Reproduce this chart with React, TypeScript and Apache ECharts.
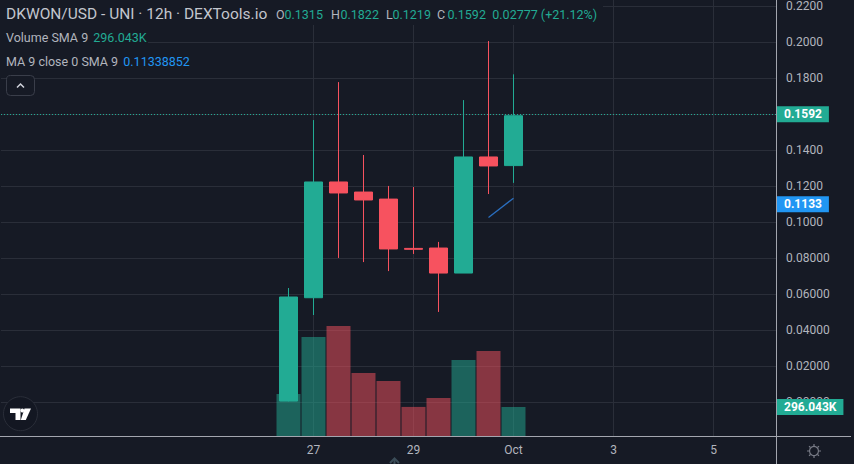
import React, { useEffect, useRef } from "react";
import * as echarts from "echarts";

const BG = "#161a25";
const GRID = "#2a2e39";
const TEXT = "#b2b5be";
const UP = "#22ab94";
const DOWN = "#f7525f";
const UP_VOL = "rgba(34,171,148,0.5)";
const DOWN_VOL = "rgba(247,82,95,0.5)";
const BLUE = "#2196f3";
const FONT = "Roboto";

// 12h slots of the time axis (Sep 21 00:00 ... Oct 6 12:00)
const slotKeys: string[] = [];
for (let i = 0; i < 31; i++) {
  const d = 21 + Math.floor(i / 2);
  const month = d > 30 ? "Oct" : "Sep";
  const day = d > 30 ? d - 30 : d;
  slotKeys.push(`${month} ${day} ${i % 2 ? "12:00" : "00:00"}`);
}

const tickSlots = ["Sep 27 00:00", "Sep 29 00:00", "Oct 1 00:00", "Oct 3 00:00", "Oct 5 00:00"];
const tickLabels = ["27", "29", "Oct", "3", "5"];

const candleDates = [
  "Sep 26 12:00", "Sep 27 00:00", "Sep 27 12:00", "Sep 28 00:00", "Sep 28 12:00",
  "Sep 29 00:00", "Sep 29 12:00", "Sep 30 00:00", "Sep 30 12:00", "Oct 1 00:00",
];
const opens = [0.0007, 0.0581, 0.1224, 0.1168, 0.1129, 0.0855, 0.0857, 0.0718, 0.1363, 0.1315];
const closes = [0.0585, 0.1224, 0.1163, 0.1124, 0.0852, 0.085, 0.0718, 0.1363, 0.1313, 0.1592];
const lows = [0.0005, 0.0485, 0.0802, 0.0779, 0.0729, 0.0824, 0.0502, 0.0718, 0.1157, 0.1219];
const highs = [0.0635, 0.1568, 0.1779, 0.1374, 0.1202, 0.1196, 0.0891, 0.1679, 0.2007, 0.1822];
const volumes = [429000, 1011000, 1123000, 643000, 561000, 297000, 388000, 776000, 868000, 296043];

const maDates = ["Sep 30 12:00", "Oct 1 00:00"];
const maValues = [0.1027, 0.11338852];

const priceGridTicks = [0, 0.02, 0.04, 0.06, 0.08, 0.1, 0.12, 0.14, 0.16, 0.18, 0.2, 0.22];

const titleText = "DKWON/USD - UNI · 12h · DEXTools.io";
const changeText = "0.02777 (+21.12%)";
const volumeLegend = "Volume SMA 9";
const maLegend = "MA 9 close 0 SMA 9";

function fmtPrice(v: number) {
  return v >= 0.0999 ? v.toFixed(4) : v.toFixed(5);
}

function trunc4(v: number) {
  return (Math.floor(v * 10000 + 1e-9) / 10000).toFixed(4);
}

export default function App() {
  const ref = useRef<HTMLDivElement>(null);

  useEffect(() => {
    if (!ref.current) return;
    const chart = echarts.init(ref.current, undefined, { renderer: "svg" });
    const last = candleDates.length - 1;
    const lastMa = maValues[maValues.length - 1];

    const candleData = slotKeys.map((k) => {
      const i = candleDates.indexOf(k);
      return i < 0 ? "-" : [opens[i], closes[i], lows[i], highs[i]];
    });
    const volumeData = slotKeys.map((k) => {
      const i = candleDates.indexOf(k);
      if (i < 0) return "-";
      return { value: volumes[i], itemStyle: { color: closes[i] >= opens[i] ? UP_VOL : DOWN_VOL } };
    });
    const maData = slotKeys.map((k) => {
      const i = maDates.indexOf(k);
      return i < 0 ? "-" : maValues[i];
    });

    const axisBox = (bg: string) => ({
      show: true,
      position: "end",
      distance: 1,
      backgroundColor: bg,
      color: "#ffffff",
      fontWeight: "bold",
      fontSize: 12,
      fontFamily: FONT,
      lineHeight: 14,
      padding: [1, 7, 1, 7],
    });

    const t = (x: number, y: number, text: string, fill: string, size: number) => ({
      type: "text",
      x,
      y,
      z: 100,
      silent: true,
      style: { text, fill, fontSize: size, fontFamily: FONT, verticalAlign: "middle" },
    });

    const gearRays: any[] = [];
    for (let k = 0; k < 8; k++) {
      const a = (k * Math.PI) / 4;
      gearRays.push({
        type: "line",
        z: 100,
        silent: true,
        shape: {
          x1: 814 + Math.cos(a) * 5,
          y1: 451 + Math.sin(a) * 5,
          x2: 814 + Math.cos(a) * 7,
          y2: 451 + Math.sin(a) * 7,
        },
        style: { stroke: "#787b86", lineWidth: 1.2 },
      });
    }

    const hiddenLine = { color: "rgba(0,0,0,0)", width: 0.01, type: "solid" };

    const option: any = {
      animation: false,
      backgroundColor: BG,
      textStyle: { fontFamily: FONT },
      grid: [
        { left: 1, right: 78, top: 0, height: 438.3 },
        { left: 1, right: 78, top: 0, height: 436 },
      ],
      xAxis: [
        { type: "category", gridIndex: 0, data: slotKeys, show: false },
        {
          type: "category",
          gridIndex: 1,
          data: slotKeys,
          axisLine: { show: false },
          axisTick: { show: false },
          splitLine: { show: false },
          axisLabel: {
            interval: (_i: number, v: string) => tickSlots.includes(v),
            formatter: (v: string) => tickLabels[tickSlots.indexOf(v)] ?? "",
            color: TEXT,
            fontSize: 12,
            fontFamily: FONT,
            margin: 8,
          },
        },
      ],
      yAxis: [
        {
          type: "value",
          gridIndex: 0,
          position: "right",
          min: -0.02,
          max: 0.2235,
          interval: 0.02,
          axisLine: { show: false },
          axisTick: { show: false },
          splitLine: { show: false },
          axisLabel: {
            showMinLabel: false,
            showMaxLabel: false,
            color: TEXT,
            fontSize: 12,
            fontFamily: FONT,
            margin: 10,
            formatter: (v: number) => fmtPrice(v),
          },
        },
        { type: "value", gridIndex: 1, min: 0, max: 4451000, show: false },
      ],
      series: [
        {
          type: "bar",
          name: "Volume",
          xAxisIndex: 1,
          yAxisIndex: 1,
          barWidth: 24,
          data: volumeData,
          markLine: {
            silent: true,
            symbol: ["none", "none"],
            z: 1,
            data: tickSlots.map((s) => ({
              xAxis: slotKeys.indexOf(s),
              lineStyle: { color: GRID, width: 1, type: "solid" },
              label: { show: false },
            })),
          },
        },
        {
          type: "candlestick",
          name: "DKWON",
          xAxisIndex: 0,
          yAxisIndex: 0,
          barWidth: 18,
          data: candleData,
          itemStyle: {
            color: UP,
            color0: DOWN,
            borderColor: UP,
            borderColor0: DOWN,
            borderWidth: 1,
          },
          markLine: {
            silent: true,
            symbol: ["none", "none"],
            z: 1,
            data: [
              ...priceGridTicks.map((v) => ({
                yAxis: v,
                lineStyle: { color: GRID, width: 1, type: "solid" },
                label: { show: false },
              })),
              {
                yAxis: closes[last],
                lineStyle: { color: UP, width: 1, type: [1, 2] },
                label: { ...axisBox(UP), formatter: closes[last].toFixed(4) },
              },
              {
                yAxis: lastMa,
                lineStyle: hiddenLine,
                label: { ...axisBox(BLUE), formatter: trunc4(lastMa) },
              },
            ],
          },
        },
        {
          type: "line",
          name: "MA 9",
          xAxisIndex: 0,
          yAxisIndex: 0,
          data: maData,
          showSymbol: false,
          lineStyle: { color: "#2a6fc0", width: 1.3 },
        },
        {
          type: "line",
          name: "Volume label",
          xAxisIndex: 1,
          yAxisIndex: 1,
          data: [],
          markLine: {
            silent: true,
            symbol: ["none", "none"],
            z: 6,
            data: [
              {
                yAxis: volumes[last],
                lineStyle: hiddenLine,
                label: { ...axisBox(UP), formatter: (volumes[last] / 1000).toFixed(3) + "K" },
              },
            ],
          },
        },
      ],
      graphic: [
        // legend backgrounds
        { type: "rect", z: 99, silent: true, shape: { x: 0, y: 0, width: 603, height: 25 }, style: { fill: BG } },
        { type: "rect", z: 99, silent: true, shape: { x: 0, y: 28, width: 148, height: 20 }, style: { fill: BG } },
        t(6, 14, titleText, "#c3c6ce", 15.5),
        t(276, 14, "O", TEXT, 12.5),
        t(284.5, 14, opens[last].toFixed(4), UP, 12.5),
        t(331, 14, "H", TEXT, 12.5),
        t(340.5, 14, highs[last].toFixed(4), UP, 12.5),
        t(386, 14, "L", TEXT, 12.5),
        t(392.5, 14, lows[last].toFixed(4), UP, 12.5),
        t(437, 14, "C", TEXT, 12.5),
        t(447.5, 14, closes[last].toFixed(4), UP, 12.5),
        t(492.3, 14, changeText, UP, 12.5),
        t(6, 37.5, volumeLegend, TEXT, 12.5),
        t(93.3, 37.5, (volumes[last] / 1000).toFixed(3) + "K", UP, 12.5),
        t(6, 61.5, maLegend, TEXT, 12.5),
        t(123.3, 61.5, lastMa.toFixed(8), BLUE, 12.5),
        // collapse button
        {
          type: "rect",
          z: 100,
          silent: true,
          shape: { x: 6.5, y: 75.5, width: 28, height: 20, r: 4 },
          style: { fill: BG, stroke: "#3a3e4a", lineWidth: 1 },
        },
        {
          type: "polyline",
          z: 101,
          silent: true,
          shape: { points: [[17, 87.5], [20.5, 84], [24, 87.5]] },
          style: { stroke: "#d1d4dc", lineWidth: 1.5, fill: "none" },
        },
        // frame lines
        {
          type: "line",
          z: 100,
          silent: true,
          shape: { x1: 776.5, y1: 0, x2: 776.5, y2: 464 },
          style: { stroke: "#a3a6af", lineWidth: 1 },
        },
        {
          type: "line",
          z: 100,
          silent: true,
          shape: { x1: 0, y1: 436.5, x2: 851, y2: 436.5 },
          style: { stroke: "#a3a6af", lineWidth: 1 },
        },
        // gear icon
        {
          type: "circle",
          z: 100,
          silent: true,
          shape: { cx: 814, cy: 451, r: 4.5 },
          style: { fill: "none", stroke: "#787b86", lineWidth: 1.2 },
        },
        ...gearRays,
        // scroll arrow
        {
          type: "polyline",
          z: 100,
          silent: true,
          shape: { points: [[390, 463], [394.5, 458.5], [399, 463]] },
          style: { stroke: "#3b4c58", lineWidth: 2, fill: "none" },
        },
        {
          type: "line",
          z: 100,
          silent: true,
          shape: { x1: 394.5, y1: 459, x2: 394.5, y2: 464 },
          style: { stroke: "#3b4c58", lineWidth: 2 },
        },
        // TradingView logo
        {
          type: "circle",
          z: 100,
          silent: true,
          shape: { cx: 20.5, cy: 413.7, r: 17 },
          style: { fill: "#131722", stroke: "#2a2e39", lineWidth: 1 },
        },
        {
          type: "polygon",
          z: 101,
          silent: true,
          shape: { points: [[10, 408.5], [20.5, 408.5], [20.5, 420], [15.5, 420], [15.5, 413], [10, 413]] },
          style: { fill: "#ffffff" },
        },
        {
          type: "circle",
          z: 101,
          silent: true,
          shape: { cx: 22.3, cy: 410.5, r: 1.9 },
          style: { fill: "#ffffff" },
        },
        {
          type: "polygon",
          z: 101,
          silent: true,
          shape: { points: [[24.5, 408.5], [31, 408.5], [25.8, 420], [20.8, 420]] },
          style: { fill: "#ffffff" },
        },
      ],
    };

    chart.setOption(option);
    return () => chart.dispose();
  }, []);

  return (
    <div
      ref={ref}
      style={{ position: "fixed", left: 0, top: 0, width: 854, height: 464, background: BG }}
    />
  );
}
